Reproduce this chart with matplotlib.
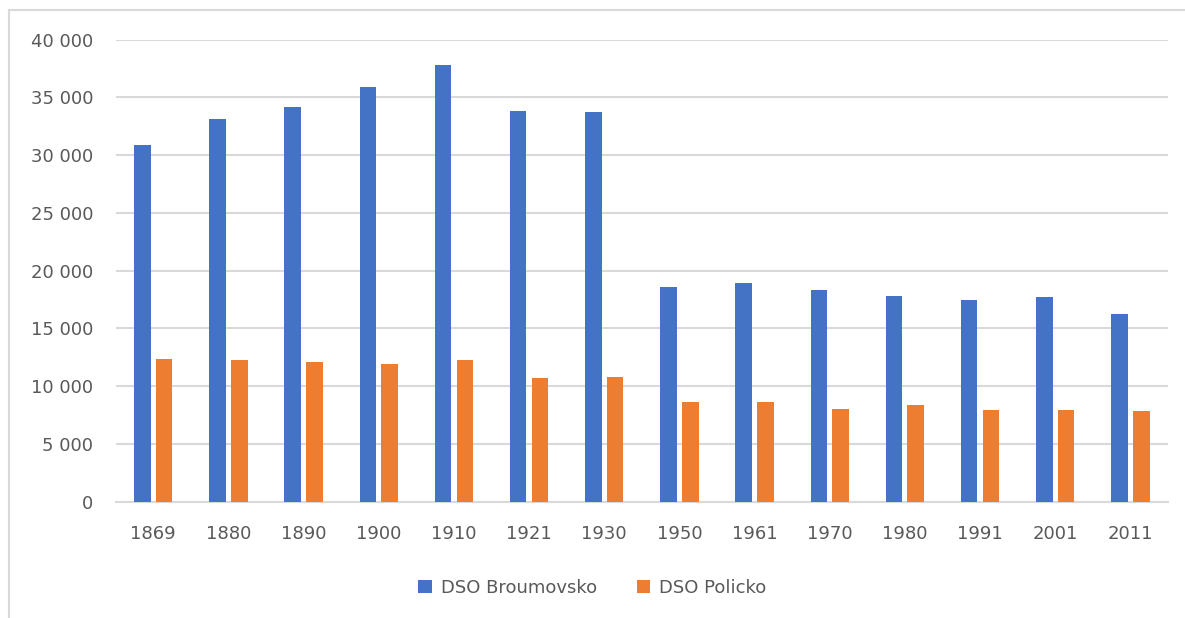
import matplotlib.pyplot as plt
import matplotlib.ticker as mticker
import numpy as np
from matplotlib.lines import Line2D

# data
years = ['1869', '1880', '1890', '1900', '1910', '1921', '1930',
         '1950', '1961', '1970', '1980', '1991', '2001', '2011']
broumovsko = [30900, 33100, 34150, 35900, 37800, 33800, 33700,
              18600, 18900, 18350, 17800, 17450, 17700, 16250]
policko = [12350, 12250, 12050, 11950, 12250, 10700, 10800,
           8650, 8650, 8050, 8400, 7950, 7950, 7850]
series_names = ['DSO Broumovsko', 'DSO Policko']

blue = '#4472c4'
orange = '#ed7d31'
txt = '#595959'
grid = '#d9d9d9'

plt.rcParams['font.family'] = ['DejaVu Sans']

fig = plt.figure(figsize=(11.85, 6.18), dpi=100)
ax = fig.add_axes([0.0976, 0.1885, 0.888, 0.7473])

x = np.arange(len(years))
w = 0.22
off = 0.145
ax.bar(x - off, broumovsko, w, color=blue, label=series_names[0], zorder=3)
ax.bar(x + off, policko, w, color=orange, label=series_names[1], zorder=3)

ax.set_xlim(-0.5, len(years) - 0.5)
ax.set_ylim(0, 40000)
ax.set_yticks(np.arange(0, 40001, 5000))
ax.yaxis.set_major_formatter(mticker.FuncFormatter(lambda v, p: f'{int(v):,}'.replace(',', ' ')))
ax.set_xticks(x)
ax.set_xticklabels(years)
ax.tick_params(axis='both', length=0, labelsize=13, colors=txt)
ax.tick_params(axis='y', pad=16)
ax.tick_params(axis='x', pad=17)

ax.grid(axis='y', color=grid, linewidth=1.5, zorder=0)
for s in ['top', 'right', 'left']:
    ax.spines[s].set_visible(False)
ax.spines['bottom'].set_color(grid)
ax.spines['bottom'].set_linewidth(1.5)

leg = fig.legend(loc='center', bbox_to_anchor=(0.5, 0.049), ncol=2, frameon=False,
                 fontsize=13, handlelength=0.75, handleheight=0.75,
                 columnspacing=2.2, handletextpad=0.5)
for t in leg.get_texts():
    t.set_color(txt)

# outer chart border (left and top only visible)
fig.add_artist(Line2D([9 / 1185, 9 / 1185], [0, 1 - 9.5 / 618], color=grid, linewidth=1.5,
                      transform=fig.transFigure))
fig.add_artist(Line2D([9 / 1185, 1], [1 - 9.5 / 618, 1 - 9.5 / 618], color=grid, linewidth=1.5,
                      transform=fig.transFigure))

fig.savefig('out.png', dpi=100)
